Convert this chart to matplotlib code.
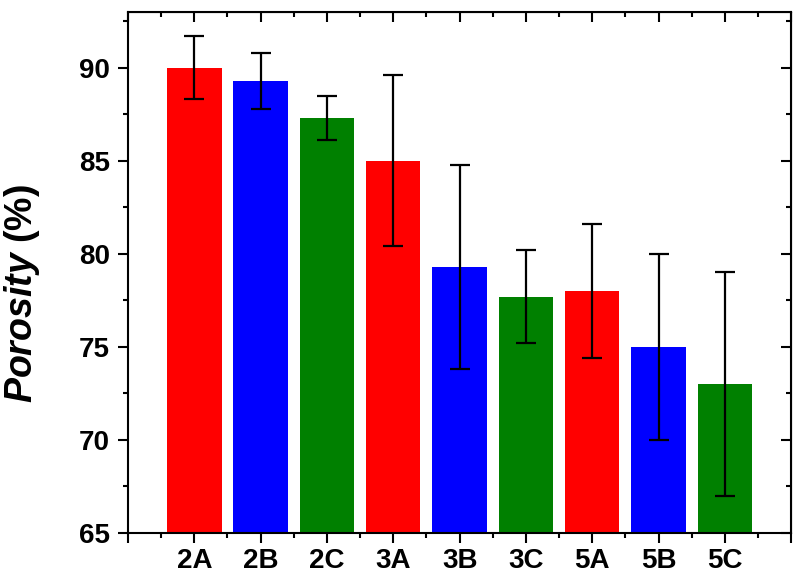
import numpy as np
import matplotlib
matplotlib.use("Agg")
import matplotlib.pyplot as plt
from matplotlib.ticker import MultipleLocator

plt.rcParams['font.family'] = 'Liberation Sans'
plt.rcParams['font.weight'] = 'bold'
plt.rcParams['mathtext.fontset'] = 'custom'
plt.rcParams['mathtext.bfit'] = 'Liberation Sans:bold:italic'
plt.rcParams['mathtext.it'] = 'Liberation Sans:bold:italic'

# data
samples = ['2A', '2B', '2C', '3A', '3B', '3C', '5A', '5B', '5C']
porosity = [90.0, 89.3, 87.3, 85.0, 79.3, 77.7, 78.0, 75.0, 73.0]
errors = [1.7, 1.5, 1.2, 4.6, 5.5, 2.5, 3.6, 5.0, 6.0]
bar_colors = ['#FF0000', '#0000FF', '#008000'] * 3

fig = plt.figure(figsize=(8, 5.84), dpi=100)
ax = fig.add_axes([0.16, 0.0873, 0.829, 0.8922])

x = np.arange(1, len(samples) + 1)
ax.bar(x, porosity, width=0.82, color=bar_colors, edgecolor='none', zorder=2)
ax.errorbar(x, porosity, yerr=errors, fmt='none', ecolor='black',
            elinewidth=1.6, capsize=7, capthick=1.6, zorder=3)

ax.set_xlim(0, 10)
ax.set_ylim(65, 93)

ax.set_xticks(np.arange(0, 11))
ax.set_xticklabels([''] + samples + [''])
ax.xaxis.set_minor_locator(MultipleLocator(0.5))
ax.yaxis.set_major_locator(MultipleLocator(5))
ax.yaxis.set_minor_locator(MultipleLocator(2.5))

for s in ax.spines.values():
    s.set_linewidth(1.5)

ax.tick_params(which='major', direction='out', length=7, width=1.5, labelsize=20, pad=6)
ax.tick_params(which='minor', direction='out', length=3.5, width=1.5)
ax.tick_params(axis='x', pad=4)

# mirrored inward ticks on top and right
top = ax.secondary_xaxis('top')
top.set_xticks(np.arange(0, 11))
top.xaxis.set_minor_locator(MultipleLocator(0.5))
top.tick_params(which='major', direction='in', length=7, width=1.5, labeltop=False)
top.tick_params(which='minor', direction='in', length=3.5, width=1.5)
right = ax.secondary_yaxis('right')
right.yaxis.set_major_locator(MultipleLocator(5))
right.yaxis.set_minor_locator(MultipleLocator(2.5))
right.tick_params(which='major', direction='in', length=7, width=1.5, labelright=False)
right.tick_params(which='minor', direction='in', length=3.5, width=1.5)

ax.set_ylabel(r'$\mathbfit{Porosity}$ (%)', fontsize=27, fontweight='bold')
ax.yaxis.set_label_coords(-0.13, 0.46)

fig.savefig('out.png', dpi=100)
